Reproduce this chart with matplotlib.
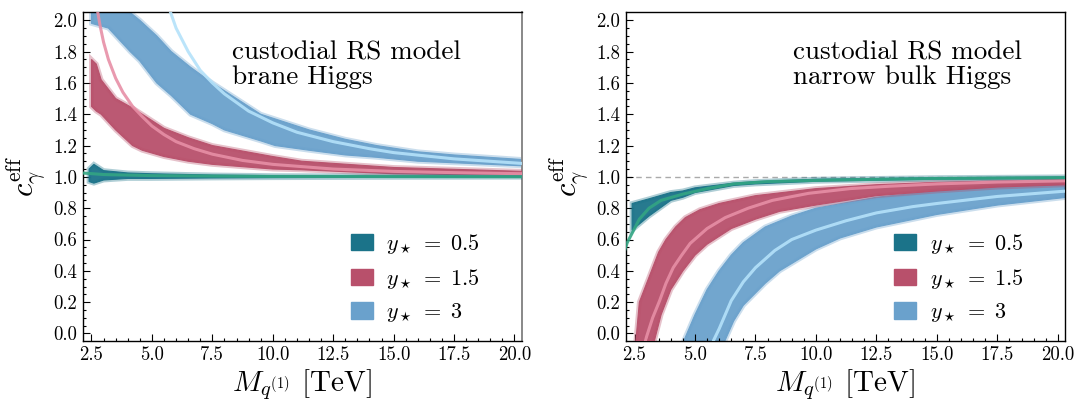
import matplotlib
matplotlib.use("Agg")
import matplotlib.pyplot as plt
import matplotlib.patches as mpatches
import numpy as np

plt.rcParams.update({
    "font.family": "serif",
    "font.serif": ["cmr10", "DejaVu Serif"],
    "mathtext.fontset": "cm",
    "axes.formatter.use_mathtext": True,
    "axes.unicode_minus": False,
})

# colours per y_star value: (scan cloud, central curve)
C_05 = ("#1b7389", "#33a583")
C_15 = ("#b8506b", "#e78fa6")
C_3 = ("#6aa1cc", "#b4e2fa")

LEGEND_LABELS = [r"$y_\star \;=\; 0.5$", r"$y_\star \;=\; 1.5$", r"$y_\star \;=\; 3$"]

# ---- brane Higgs: scan bands (x, lower, upper) and central curves ----
brane_05_x = [2.4, 2.6, 3.0, 4.0, 5.0, 7.5, 10.0, 15.0, 20.4]
brane_05_lo = [0.97, 0.96, 0.98, 0.99, 0.99, 0.993, 0.995, 0.997, 0.998]
brane_05_hi = [1.05, 1.08, 1.04, 1.025, 1.02, 1.012, 1.008, 1.006, 1.005]
brane_05_cx = [2.1, 3.0, 5.0, 7.5, 10.0, 15.0, 20.4]
brane_05_cy = [1.025, 1.015, 1.008, 1.005, 1.003, 1.002, 1.001]

brane_15_x = [2.5, 2.7, 2.9, 3.5, 4.2, 4.6, 5.5, 6.5, 7.5, 10.0, 11.2, 15.0, 20.4]
brane_15_lo = [1.45, 1.42, 1.40, 1.30, 1.20, 1.17, 1.13, 1.10, 1.08, 1.05, 1.045, 1.02, 1.01]
brane_15_hi = [1.75, 1.72, 1.62, 1.50, 1.44, 1.40, 1.31, 1.25, 1.20, 1.13, 1.10, 1.06, 1.035]
brane_15_cx = [2.75, 2.85, 3.0, 3.2, 3.5, 3.8, 4.2, 4.6, 5.0, 5.5, 6.0, 6.75, 7.5, 8.75,
               10.0, 12.5, 15.0, 17.5, 20.4]
brane_15_cy = [2.06, 1.97, 1.86, 1.75, 1.63, 1.54, 1.45, 1.385, 1.325, 1.27, 1.225, 1.18,
               1.145, 1.105, 1.08, 1.05, 1.035, 1.027, 1.02]

brane_3_x = [2.5, 3.2, 4.1, 4.5, 5.2, 5.8, 6.6, 7.5, 8.0, 9.5, 10.1, 11.5, 13.0, 14.3, 16.0,
             17.5, 20.4]
brane_3_lo = [1.98, 1.95, 1.80, 1.74, 1.60, 1.52, 1.40, 1.34, 1.30, 1.23, 1.20, 1.17, 1.14,
              1.125, 1.10, 1.09, 1.07]
brane_3_hi = [2.10, 2.08, 2.05, 2.00, 1.90, 1.80, 1.70, 1.60, 1.55, 1.40, 1.37, 1.30, 1.24,
              1.20, 1.16, 1.14, 1.11]
brane_3_cx = [5.75, 6.0, 6.5, 7.0, 7.5, 8.0, 9.0, 10.0, 11.0, 12.5, 14.0, 15.0, 17.5, 20.4]
brane_3_cy = [2.06, 1.95, 1.80, 1.68, 1.60, 1.53, 1.42, 1.345, 1.285, 1.225, 1.18, 1.155,
              1.115, 1.085]

# ---- narrow bulk Higgs ----
bulk_05_x = [2.4, 3.1, 4.0, 4.5, 5.0, 6.6, 7.5, 10.0, 15.0, 20.4]
bulk_05_lo = [0.66, 0.75, 0.85, 0.87, 0.90, 0.945, 0.955, 0.972, 0.985, 0.99]
bulk_05_hi = [0.83, 0.86, 0.90, 0.91, 0.93, 0.96, 0.97, 0.985, 0.995, 1.0]
bulk_05_cx = [2.05, 2.2, 2.4, 2.7, 3.1, 3.6, 4.5, 5.5, 6.6, 8.0, 10.7, 15.0, 20.4]
bulk_05_cy = [0.51, 0.58, 0.64, 0.73, 0.80, 0.85, 0.89, 0.925, 0.955, 0.97, 0.98, 0.99, 0.995]

bulk_15_up_x = [2.55, 2.7, 3.0, 3.2, 3.5, 3.8, 4.2, 4.6, 5.2, 6.0, 7.5, 10.0, 12.5, 15.0, 20.4]
bulk_15_hi = [-0.06, 0.20, 0.32, 0.40, 0.52, 0.60, 0.68, 0.74, 0.79, 0.83, 0.88, 0.925, 0.95,
              0.965, 0.985]
bulk_15_lo_x = [2.55, 3.3, 3.6, 4.0, 4.5, 5.0, 5.5, 6.0, 6.5, 7.5, 8.5, 10.0, 12.5, 15.0, 17.5,
                20.4]
bulk_15_lo = [-0.06, -0.06, 0.12, 0.28, 0.40, 0.50, 0.57, 0.62, 0.67, 0.73, 0.78, 0.82, 0.88,
              0.91, 0.935, 0.95]
bulk_15_cx = [2.95, 3.0, 3.25, 3.54, 3.8, 4.1, 4.45, 4.8, 5.5, 6.25, 7.2, 8.2, 9.7, 11.4, 13.0,
              15.0, 17.5, 20.4]
bulk_15_cy = [-0.05, -0.02, 0.10, 0.21, 0.32, 0.42, 0.50, 0.575, 0.67, 0.74, 0.80, 0.85, 0.895,
              0.925, 0.94, 0.955, 0.967, 0.975]

bulk_3_up_x = [4.5, 5.0, 5.5, 6.0, 6.5, 7.0, 7.9, 9.0, 10.0, 12.5, 15.0, 17.5, 20.4]
bulk_3_hi = [-0.06, 0.12, 0.28, 0.40, 0.50, 0.58, 0.68, 0.75, 0.80, 0.87, 0.91, 0.935, 0.95]
bulk_3_lo_x = [4.5, 6.2, 6.6, 7.0, 7.9, 8.5, 10.0, 11.0, 12.5, 15.0, 17.5, 20.4]
bulk_3_lo = [-0.06, -0.06, 0.08, 0.18, 0.32, 0.40, 0.54, 0.61, 0.68, 0.76, 0.82, 0.87]
bulk_3_cx = [5.75, 6.0, 6.25, 6.5, 7.0, 7.5, 8.3, 9.0, 10.0, 11.25, 12.5, 14.0, 15.0, 17.5, 20.4]
bulk_3_cy = [-0.05, 0.03, 0.12, 0.21, 0.33, 0.42, 0.53, 0.60, 0.66, 0.72, 0.77, 0.81, 0.83,
             0.875, 0.91]

XLIM = (2.15, 20.3)
YLIM = (-0.047, 2.05)

fig = plt.figure(figsize=(10.74, 4.01), dpi=100)
ax_l = fig.add_axes([0.0773, 0.150, 0.4085, 0.819])
ax_r = fig.add_axes([0.5829, 0.150, 0.4088, 0.819])


def band_polygon(ax, up_x, hi, lo_x, lo, color, z):
    """Scan cloud as a closed region: upper edge left->right, lower edge back."""
    px = list(up_x) + list(lo_x)[::-1]
    py = list(hi) + list(lo)[::-1]
    # soft fringe for the sparse points around the dense core
    ax.fill(px, py, facecolor="none", edgecolor=color, lw=3.5, alpha=0.35, zorder=z)
    ax.fill(px, py, facecolor=color, edgecolor=color, lw=0.8, alpha=0.95, zorder=z)


def curve(ax, cx, cy, color, z):
    ax.plot(cx, cy, color=color, lw=2.2, alpha=0.9, zorder=z + 10,
            solid_capstyle="butt", solid_joinstyle="round")


def style_axes(ax):
    ax.set_xlim(*XLIM)
    ax.set_ylim(*YLIM)
    ax.set_xticks(np.arange(2.5, 20.01, 2.5))
    ax.set_xticks(np.arange(2.5, 20.4, 0.5), minor=True)
    ax.set_yticks(np.arange(0.0, 2.01, 0.2))
    ax.set_yticks(np.arange(0.0, 2.05, 0.05), minor=True)
    ax.xaxis.set_major_formatter(matplotlib.ticker.FormatStrFormatter("%.1f"))
    ax.yaxis.set_major_formatter(matplotlib.ticker.FormatStrFormatter("%.1f"))
    ax.tick_params(which="both", direction="in", top=False, right=False,
                   labelsize=13.5, width=0.8)
    ax.tick_params(which="major", length=5, pad=4)
    ax.tick_params(which="minor", length=2.5)
    for s in ax.spines.values():
        s.set_linewidth(1.0)
    ax.set_xlabel(r"$M_{q^{(1)}}$ [TeV]", fontsize=21, labelpad=2)
    ax.set_ylabel(r"$c_\gamma^{\rm eff}$", fontsize=22, labelpad=4)
    handles = [mpatches.Patch(color=c[0]) for c in (C_05, C_15, C_3)]
    leg = ax.legend(handles, LEGEND_LABELS, loc="lower left",
                    bbox_to_anchor=(0.565, -0.01), frameon=False, fontsize=16,
                    handlelength=1.0, handleheight=0.75, labelspacing=0.5,
                    handletextpad=0.6)
    leg.set_zorder(30)


# brane Higgs panel
band_polygon(ax_l, brane_05_x, brane_05_hi, brane_05_x, brane_05_lo, C_05[0], 5)
band_polygon(ax_l, brane_15_x, brane_15_hi, brane_15_x, brane_15_lo, C_15[0], 3)
band_polygon(ax_l, brane_3_x, brane_3_hi, brane_3_x, brane_3_lo, C_3[0], 1)
curve(ax_l, brane_05_cx, brane_05_cy, C_05[1], 5)
curve(ax_l, brane_15_cx, brane_15_cy, C_15[1], 3)
curve(ax_l, brane_3_cx, brane_3_cy, C_3[1], 1)
style_axes(ax_l)
ax_l.spines["right"].set_color("#888888")
ax_l.spines["right"].set_linewidth(1.4)
ax_l.text(0.34, 0.915, "custodial RS model\nbrane Higgs", transform=ax_l.transAxes,
          fontsize=19.5, va="top", ha="left", linespacing=1.05)

# narrow bulk Higgs panel
ax_r.axhline(1.0, color="#aaaaaa", lw=1.0, ls=(0, (4, 3)), zorder=0)
band_polygon(ax_r, bulk_05_x, bulk_05_hi, bulk_05_x, bulk_05_lo, C_05[0], 5)
band_polygon(ax_r, bulk_15_up_x, bulk_15_hi, bulk_15_lo_x, bulk_15_lo, C_15[0], 3)
band_polygon(ax_r, bulk_3_up_x, bulk_3_hi, bulk_3_lo_x, bulk_3_lo, C_3[0], 1)
curve(ax_r, bulk_05_cx, bulk_05_cy, C_05[1], 5)
curve(ax_r, bulk_15_cx, bulk_15_cy, C_15[1], 3)
curve(ax_r, bulk_3_cx, bulk_3_cy, C_3[1], 1)
style_axes(ax_r)
ax_r.text(0.38, 0.915, "custodial RS model\nnarrow bulk Higgs", transform=ax_r.transAxes,
          fontsize=19.5, va="top", ha="left", linespacing=1.05)

fig.savefig("out.png", dpi=100)
